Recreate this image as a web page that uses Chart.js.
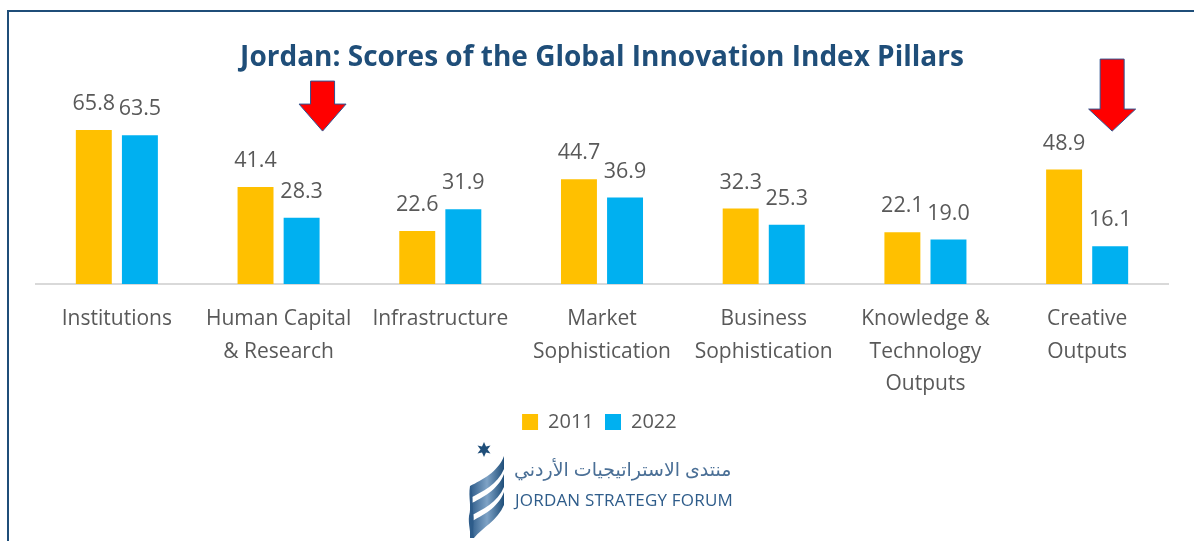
<!DOCTYPE html>
<html>
<head>
<meta charset="utf-8">
<script src="https://cdn.jsdelivr.net/npm/chart.js@4.4.0/dist/chart.umd.min.js"></script>
<style>
  html, body { margin: 0; padding: 0; background: #fff; }
  body { width: 1194px; height: 541px; position: relative; overflow: hidden; font-family: "Open Sans", sans-serif; }
  #frame { position: absolute; left: 7px; top: 10px; width: 1300px; height: 700px; border: 2px solid #1F4E79; }
  #wrap { position: absolute; left: 0; top: 0; width: 1194px; height: 442px; }
  #logo { position: absolute; left: 466px; top: 436px; width: 280px; height: 105px; }
  #logo .ar { position: absolute; left: 48px; top: 20px; font-family: "Noto Sans", "DejaVu Sans", sans-serif; font-size: 19px; color: #4A6F96; direction: rtl; width: 218px; text-align: left; }
  #logo .en { position: absolute; left: 49px; top: 52px; font-size: 17px; color: #2E5C8A; letter-spacing: 0.2px; }
</style>
</head>
<body>
<div id="frame"></div>
<div id="wrap"><canvas id="gii-chart"></canvas></div>
<div id="logo">
  <svg width="44" height="105" viewBox="0 0 44 105" style="position:absolute;left:0;top:0">
    <defs>
      <linearGradient id="rib" x1="0" y1="0" x2="1" y2="0">
        <stop offset="0" stop-color="#2E5C8A"/>
        <stop offset="0.5" stop-color="#7FA3C6"/>
        <stop offset="1" stop-color="#1F4E79"/>
      </linearGradient>
    </defs>
    <polygon points="18,6 20,10.5 24.5,9.5 21.5,13.5 24.5,17.5 20,16.5 18,21 16,16.5 11.5,17.5 14.5,13.5 11.5,9.5 16,10.5" fill="#1F4E79"/>
    <path d="M4,50 C16,44 32,36 38,20 L38,33 C32,48 16,56 4,62 Z" fill="url(#rib)"/>
    <path d="M4,68 C16,62 32,54 38,38 L38,51 C32,66 16,74 4,80 Z" fill="url(#rib)"/>
    <path d="M4,86 C16,80 32,72 38,56 L38,69 C32,84 16,92 8,102 L4,102 Z" fill="url(#rib)"/>
    <path d="M4,50 C2,62 6,70 3,80 C2,88 5,96 4,102 L8,102 C6,92 9,84 7,76 C6,68 8,58 4,50 Z" fill="#2E5C8A"/>
  </svg>
  <div class="ar">منتدى الاستراتيجيات الأردني</div>
  <div class="en">JORDAN STRATEGY FORUM</div>
</div>
<script>
// categories and values
const pillars = [
  'Institutions',
  ['Human Capital', '& Research'],
  'Infrastructure',
  ['Market', 'Sophistication'],
  ['Business', 'Sophistication'],
  ['Knowledge &', 'Technology', 'Outputs'],
  ['Creative', 'Outputs']
];
const scores2011 = [65.8, 41.4, 22.6, 44.7, 32.3, 22.1, 48.9];
const scores2022 = [63.5, 28.3, 31.9, 36.9, 25.3, 19.0, 16.1];

// red "decline" arrows: category index, x offset from category centre, top / head start / tip above axis (px)
const arrowCats = [1, 6];
const arrowDx = [44, 25];
const arrowTop = [203, 225];
const arrowHead = [180, 175];
const arrowTip = [153, 153];

// draws the value above each bar
const valueLabels = {
  id: 'valueLabels',
  afterDatasetsDraw(chart) {
    const ctx = chart.ctx;
    ctx.save();
    ctx.font = '21.5px "Open Sans", sans-serif';
    ctx.fillStyle = '#595959';
    ctx.textAlign = 'center';
    ctx.textBaseline = 'middle';
    chart.data.datasets.forEach((ds, i) => {
      chart.getDatasetMeta(i).data.forEach((bar, j) => {
        ctx.fillText(ds.data[j].toFixed(1), bar.x, bar.y - 26);
      });
    });
    ctx.restore();
  }
};

// draws the red arrows
const redArrows = {
  id: 'redArrows',
  afterDraw(chart) {
    const ctx = chart.ctx;
    const base = chart.scales.y.getPixelForValue(0);
    ctx.save();
    arrowCats.forEach((c, k) => {
      const cx = chart.scales.x.getPixelForValue(c) + arrowDx[k];
      const top = base - arrowTop[k];
      const head = base - arrowHead[k];
      const tip = base - arrowTip[k];
      const sw = 12, hw = 23.5;
      ctx.beginPath();
      ctx.moveTo(cx - sw, top);
      ctx.lineTo(cx + sw, top);
      ctx.lineTo(cx + sw, head);
      ctx.lineTo(cx + hw, head);
      ctx.lineTo(cx, tip);
      ctx.lineTo(cx - hw, head);
      ctx.lineTo(cx - sw, head);
      ctx.closePath();
      ctx.fillStyle = '#FF0000';
      ctx.fill();
      ctx.lineWidth = 1;
      ctx.strokeStyle = '#2F528F';
      ctx.stroke();
    });
    ctx.restore();
  }
};

new Chart(document.getElementById('gii-chart'), {
  type: 'bar',
  data: {
    labels: pillars,
    datasets: [
      { label: '2011', data: scores2011, backgroundColor: '#FFC000', barPercentage: 0.78, categoryPercentage: 0.57 },
      { label: '2022', data: scores2022, backgroundColor: '#00B0F0', barPercentage: 0.78, categoryPercentage: 0.57 }
    ]
  },
  options: {
    responsive: true,
    maintainAspectRatio: false,
    animation: false,
    layout: { padding: { left: 36, right: 26, top: 10, bottom: 0 } },
    plugins: {
      title: {
        display: true,
        text: 'Jordan: Scores of the Global Innovation Index Pillars',
        color: '#1F4E79',
        font: { family: '"Open Sans", sans-serif', size: 28, weight: 'bold' },
        padding: { top: 31, bottom: 22 }
      },
      legend: {
        position: 'bottom',
        labels: {
          color: '#595959',
          font: { family: '"Open Sans", sans-serif', size: 20 },
          boxWidth: 16,
          boxHeight: 16,
          padding: 6,
          // a trailing space widens the gap between the two entries
          generateLabels(chart) {
            return Chart.defaults.plugins.legend.labels.generateLabels(chart).map(item => {
              item.text = item.text + ' ';
              return item;
            });
          }
        }
      },
      tooltip: { enabled: false }
    },
    scales: {
      x: {
        grid: { display: false, drawTicks: false },
        border: { color: '#D9D9D9', width: 2 },
        ticks: {
          color: '#595959',
          font: { family: '"Open Sans", sans-serif', size: 21, lineHeight: 1.57 },
          padding: 18,
          maxRotation: 0,
          autoSkip: false
        },
        afterFit(scale) {
          // tighten the gap between the tick labels and the legend
          scale.height -= 13;
        }
      },
      y: {
        display: false,
        min: 0,
        max: 80
      }
    }
  },
  plugins: [valueLabels, redArrows]
});
</script>
</body>
</html>
